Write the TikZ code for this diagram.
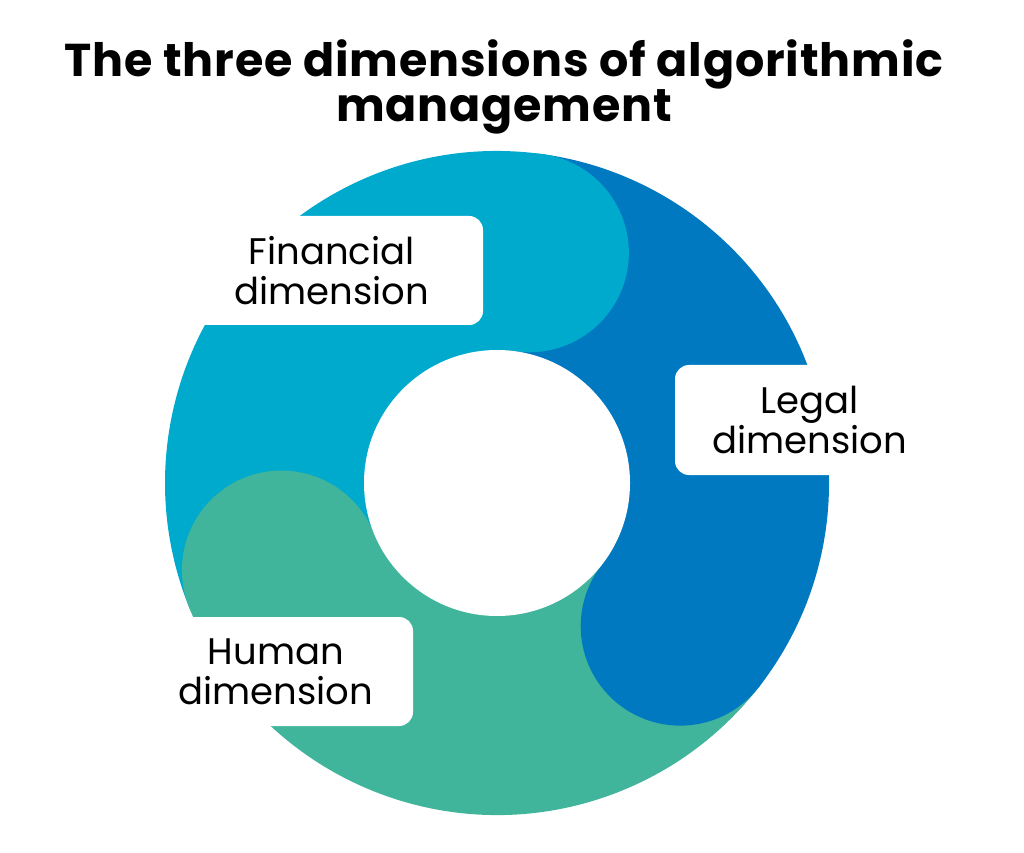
\documentclass[tikz,border=0pt]{standalone}
\usepackage{fontspec}
\setmainfont{Poppins}
\newfontfamily\ttlfont[LetterSpace=1.8]{Poppins}
\definecolor{fin}{RGB}{0,170,205}
\definecolor{leg}{RGB}{0,121,193}
\definecolor{hum}{RGB}{65,181,155}
\begin{document}
\begin{tikzpicture}[x=1pt,y=1pt,
  lbl/.style={fill=white, rounded corners=14pt, align=center, inner sep=0pt, text=black,
    font=\fontsize{37}{40}\selectfont},
  ttl/.style={align=center, inner sep=0pt, font=\ttlfont\bfseries\fontsize{46}{40}\selectfont}
]
\useasboundingbox (0,0) rectangle (1024,852);
\coordinate (C) at (497,369);
% ring sectors
\fill[fin] (C) -- ++(82:332) arc[start angle=82,end angle=202,radius=332pt] -- cycle;
\fill[hum] (C) -- ++(202:332) arc[start angle=202,end angle=322,radius=332pt] -- cycle;
\fill[leg] (C) -- ++(322:332) arc[start angle=322,end angle=442,radius=332pt] -- cycle;
% rounded ends
\fill[fin,shift={(C)}] (82:232.5) circle[radius=99.5pt];
\fill[hum,shift={(C)}] (202:232.5) circle[radius=99.5pt];
\fill[leg,shift={(C)}] (322:232.5) circle[radius=99.5pt];
% hole
\fill[white] (C) circle[radius=133pt];
% labels
\node[lbl, minimum width=303pt, minimum height=109pt] (finl) at (331.5,581.5) {Financial\\dimension};
\node[lbl, minimum width=270pt, minimum height=110pt] (legl) at (810,432) {Legal\\dimension};
\node[lbl, minimum width=274pt, minimum height=109pt] (huml) at (276,180.5) {Human\\dimension};
% title
\node[ttl] (title) at (504,765) {The three dimensions of algorithmic\\management};
\end{tikzpicture}
\end{document}
